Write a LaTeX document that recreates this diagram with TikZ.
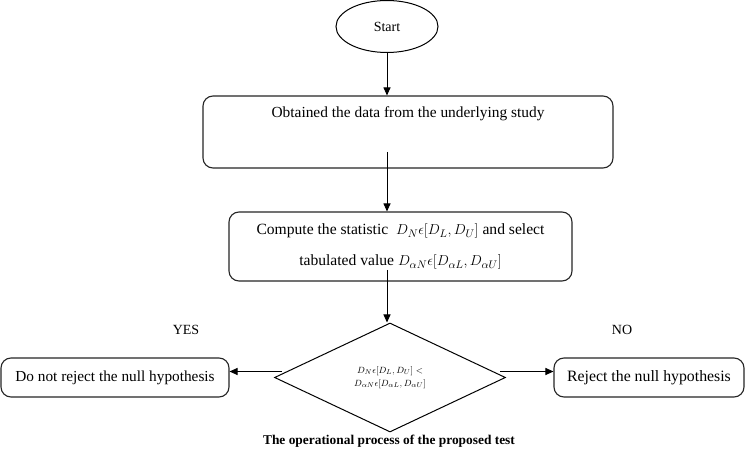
\documentclass[tikz,border=0pt]{standalone}
\usepackage{fontspec}
\setmainfont{Liberation Serif}
\usetikzlibrary{shapes.geometric,arrows.meta}
\tikzset{
  box/.style={draw=black!85, line width=1.1pt, rounded corners=10pt, align=center, inner sep=0pt},
  arr/.style={draw=black, line width=1pt, -{Triangle[length=8pt,width=7pt]}},
  lbl/.style={inner sep=0pt}
}
\begin{document}
\begin{tikzpicture}[x=1pt,y=-1pt]
\useasboundingbox[fill=white] (0,0) rectangle (745,449);
\node[draw=black, line width=1pt, ellipse, minimum width=102pt, minimum height=52pt, inner sep=0pt, font=\fontsize{14}{16}\selectfont] (start) at (387,26.5) {Start};
\node[box, minimum width=410pt, minimum height=72pt, text height=22pt, text depth=50pt, font=\fontsize{15.4}{17}\selectfont] (obt) at (408,132) {Obtained the data from the underlying study};
\node[box, minimum width=343pt, minimum height=69pt, font=\fontsize{15.6}{31}\selectfont] (comp) at (400.5,246.5) {Compute the statistic \ $D_N\epsilon[D_L,D_U]$ and select\\ tabulated value $D_{\alpha N}\epsilon[D_{\alpha L},D_{\alpha U}]$};
\node[diamond, draw=black, line width=1pt, minimum width=231pt, minimum height=109pt, inner sep=0pt, align=center, font=\fontsize{9.5}{13}\selectfont] (dec) at (390,377.5) {$D_N\epsilon[D_L,D_U]<$\\ $D_{\alpha N}\epsilon[D_{\alpha L},D_{\alpha U}]$};
\node[box, minimum width=228pt, minimum height=39pt, font=\fontsize{15.3}{17}\selectfont] (keep) at (115,377.5) {Do not reject the null hypothesis};
\node[box, minimum width=190pt, minimum height=39pt, font=\fontsize{15.8}{17}\selectfont] (rej) at (649,377.5) {Reject the null hypothesis};
\node[lbl, font=\fontsize{14}{16}\selectfont] (yes) at (186,330) {YES};
\node[lbl, font=\fontsize{14}{16}\selectfont] (no) at (622,330) {NO};
\node[lbl, font=\bfseries\fontsize{13.4}{16}\selectfont] (cap) at (389,441) {The operational process of the proposed test};
\coordinate (o1) at (387,152);
\coordinate (o2) at (387,270);
\draw[arr] (start.south) -- (start.south |- obt.north);
\draw[arr] (o1) -- (o1 |- comp.north);
\draw[arr] (o2) -- (o2 |- dec.north);
\draw[arr] ([shift={(8,-6)}]dec.west) -- ([yshift=6pt]keep.east);
\draw[arr] ([shift={(-6,-6)}]dec.east) -- ([yshift=6pt]rej.west);
\end{tikzpicture}
\end{document}
